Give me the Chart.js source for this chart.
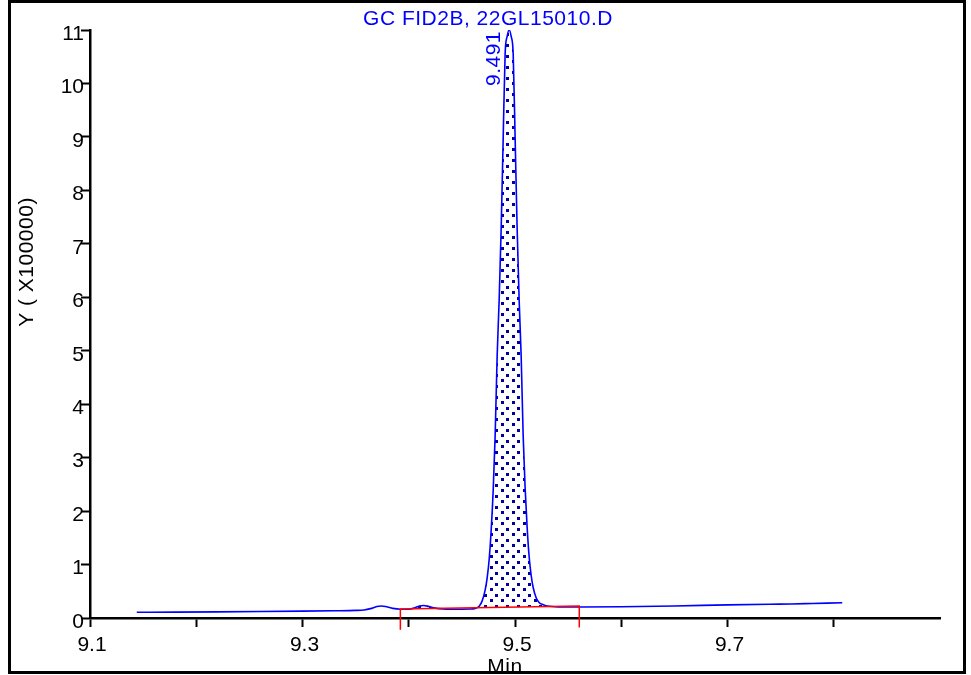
<!DOCTYPE html>
<html>
<head>
<meta charset="utf-8">
<script src="https://cdn.jsdelivr.net/npm/chart.js@4"></script>
<style>
  html, body { margin: 0; padding: 0; background: #fff; }
  canvas { display: block; }
</style>
</head>
<body>
<canvas id="c" width="971" height="675"></canvas>
<script>
// ---------- data ----------
const chartTitle = 'GC FID2B, 22GL15010.D';
const yTitle = 'Y ( X100000)';
const xTitle = 'Min';
const peakLabel = '9.491';
const peakTime = 9.4945;
const peakHeight = 11.0;

const xTickValues = [9.1, 9.2, 9.3, 9.4, 9.5, 9.6, 9.7, 9.8];
const xTickLabels = ['9.1', '9.3', '9.5', '9.7'];
const yTickValues = [0, 1, 2, 3, 4, 5, 6, 7, 8, 9, 10, 11];

// retention time (min)
const times = [
  9.144, 9.180, 9.220, 9.260, 9.300, 9.330, 9.350, 9.358, 9.364, 9.370,
  9.374, 9.379, 9.385, 9.392, 9.400, 9.405, 9.410, 9.414, 9.419, 9.425,
  9.432, 9.440, 9.450, 9.458, 9.4625, 9.4663, 9.4691, 9.4719, 9.4738, 9.4757,
  9.4776, 9.4795, 9.4813, 9.4832, 9.4851, 9.4870, 9.4889, 9.4907, 9.4926, 9.4945,
  9.4964, 9.4983, 9.5001, 9.5020, 9.5039, 9.5058, 9.5077, 9.5095, 9.5114, 9.5133,
  9.5152, 9.5171, 9.5199, 9.5227, 9.5265, 9.532, 9.545, 9.560, 9.600, 9.650,
  9.700, 9.740, 9.760, 9.780, 9.808
];
// detector signal (x100000)
const signal = [
  0.107, 0.110, 0.115, 0.121, 0.128, 0.135, 0.142, 0.150, 0.175, 0.215,
  0.225, 0.210, 0.180, 0.165, 0.165, 0.185, 0.225, 0.235, 0.215, 0.185,
  0.170, 0.165, 0.165, 0.168, 0.180, 0.220, 0.320, 0.520, 0.750, 1.100,
  1.650, 2.400, 3.400, 4.900, 5.950, 7.300, 9.000, 10.550, 10.880, 11.000,
  10.880, 10.550, 9.000, 7.300, 5.950, 4.900, 3.400, 2.450, 1.700, 1.150,
  0.800, 0.570, 0.380, 0.290, 0.250, 0.220, 0.205, 0.205, 0.210, 0.225,
  0.245, 0.258, 0.262, 0.272, 0.286
];

// integration baseline (start / end) and its drop-line ends
const baselineTimes = [9.3921, 9.5605];
const baselineValues = [0.168, 0.2245];
const baselineTickBottom = [-0.22, -0.18];

// ---------- helpers ----------
const FONT = '"Liberation Sans", Arial, sans-serif';

function makeDots() {
  const c = document.createElement('canvas');
  c.width = 11; c.height = 11;
  const g = c.getContext('2d');
  g.fillStyle = '#00009c';
  g.fillRect(0, 0, 3, 3);
  g.fillRect(6, 5, 3, 3);
  return g.createPattern(c, 'repeat');
}

const curve = times.map((t, i) => ({ x: t, y: signal[i] }));
const areaPts = curve.filter(p => p.x >= baselineTimes[0] && p.x <= baselineTimes[1]);
const basePts = baselineTimes.map((t, i) => ({ x: t, y: baselineValues[i] }));
const markerPts = [
  { x: baselineTimes[0], y: baselineTickBottom[0] },
  { x: baselineTimes[0], y: baselineValues[0] },
  { x: baselineTimes[1], y: baselineValues[1] },
  { x: baselineTimes[1], y: baselineTickBottom[1] }
];

const decor = {
  id: 'decor',
  beforeDraw(chart) {
    const ctx = chart.ctx;
    ctx.save();
    ctx.fillStyle = '#ffffff';
    ctx.fillRect(0, 0, chart.width, chart.height);
    ctx.restore();
  },
  afterDraw(chart) {
    const { ctx } = chart;
    const xs = chart.scales.x, ys = chart.scales.y;
    ctx.save();
    ctx.font = '21px ' + FONT;
    if ('letterSpacing' in ctx) ctx.letterSpacing = '0.5px';
    // title
    ctx.fillStyle = '#0000ff';
    ctx.textAlign = 'center';
    ctx.textBaseline = 'middle';
    ctx.fillText(chartTitle, 488, 19);
    // peak label
    ctx.save();
    ctx.translate(xs.getPixelForValue(peakTime) - 15, ys.getPixelForValue(peakHeight) + 1);
    ctx.rotate(-Math.PI / 2);
    ctx.textAlign = 'right';
    ctx.fillText(peakLabel, 0, 0);
    ctx.restore();
    // y title
    ctx.fillStyle = '#000000';
    ctx.save();
    ctx.translate(27.5, 262);
    ctx.rotate(-Math.PI / 2);
    ctx.textAlign = 'center';
    ctx.fillText(yTitle, 0, 0);
    ctx.restore();
    // x title
    ctx.textAlign = 'center';
    ctx.fillText(xTitle, 505, 667.5);
    // frame
    ctx.strokeStyle = '#000000';
    ctx.lineWidth = 3;
    ctx.strokeRect(9.5, 1.5, 955, 671);
    ctx.restore();
  }
};

new Chart(document.getElementById('c'), {
  type: 'line',
  data: {
    datasets: [
      {
        data: markerPts,
        borderColor: '#ff0000',
        borderWidth: 1.5,
        pointRadius: 0,
        tension: 0,
        fill: false,
        clip: false
      },
      {
        data: curve,
        borderColor: '#0000ff',
        borderWidth: 1.6,
        pointRadius: 0,
        cubicInterpolationMode: 'monotone',
        fill: false
      },
      {
        data: areaPts,
        borderColor: 'rgba(0,0,0,0)',
        borderWidth: 0,
        pointRadius: 0,
        cubicInterpolationMode: 'monotone',
        backgroundColor: makeDots(),
        fill: { target: 3 }
      },
      {
        data: basePts,
        borderColor: 'rgba(0,0,0,0)',
        borderWidth: 0,
        pointRadius: 0,
        fill: false
      }
    ]
  },
  options: {
    responsive: false,
    animation: false,
    devicePixelRatio: 1,
    layout: { padding: { left: 0, top: 30, right: 31, bottom: 0 } },
    plugins: {
      legend: { display: false },
      tooltip: { enabled: false },
      title: { display: false }
    },
    scales: {
      x: {
        type: 'linear',
        min: 9.1,
        max: 9.9,
        afterFit: s => { s.height = 57; },
        afterBuildTicks: s => { s.ticks = xTickValues.map(v => ({ value: v })); },
        grid: {
          drawOnChartArea: false,
          drawTicks: true,
          tickLength: 9,
          tickWidth: 2,
          tickColor: '#000000'
        },
        border: { display: true, color: '#000000', width: 2.5 },
        ticks: {
          autoSkip: false,
          maxRotation: 0,
          padding: 6,
          labelOffset: 2,
          color: '#000000',
          font: { family: FONT, size: 21 },
          callback: v => {
            const s = Number(v).toFixed(1);
            return xTickLabels.includes(s) ? s : '';
          }
        }
      },
      y: {
        type: 'linear',
        min: 0,
        max: 11,
        afterFit: s => { s.width = 90; },
        afterBuildTicks: s => { s.ticks = yTickValues.map(v => ({ value: v })); },
        grid: {
          drawOnChartArea: false,
          drawTicks: true,
          tickLength: 9,
          tickWidth: 2,
          tickColor: '#000000'
        },
        border: { display: true, color: '#000000', width: 2.5 },
        ticks: {
          autoSkip: false,
          padding: -3,
          labelOffset: 4,
          color: '#000000',
          font: { family: FONT, size: 21 },
          callback: v => String(v)
        }
      }
    }
  },
  plugins: [decor]
});
</script>
</body>
</html>
